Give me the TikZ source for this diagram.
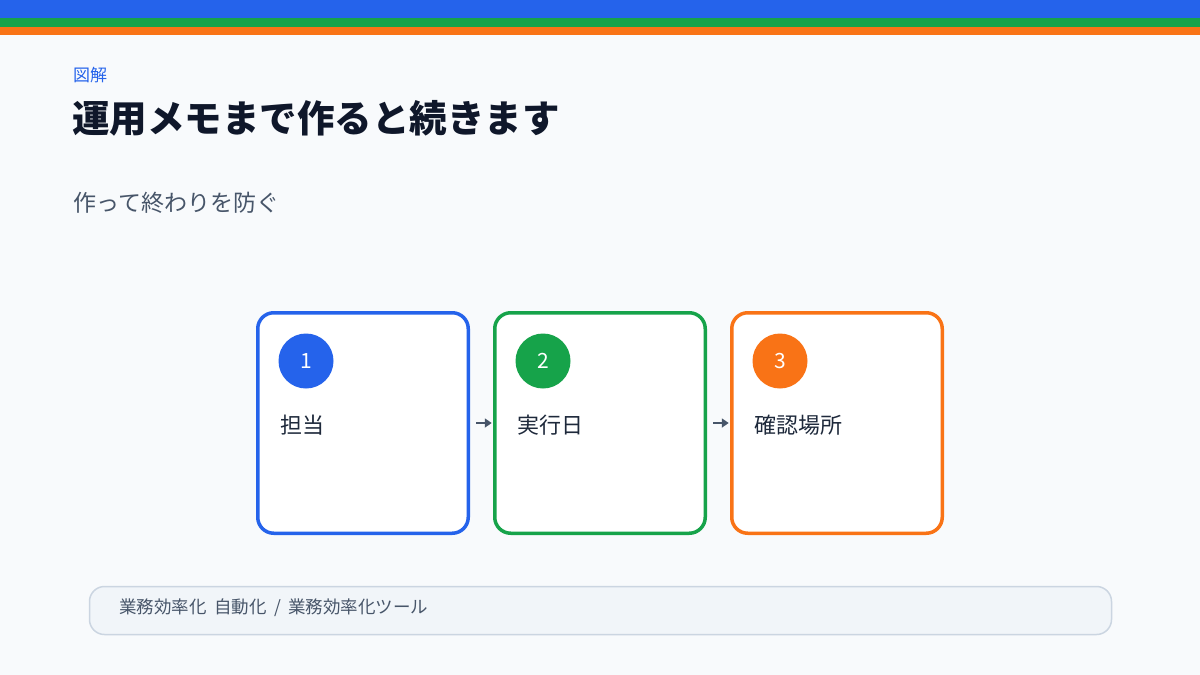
\documentclass[tikz,border=0pt]{standalone}
\usepackage{fontspec}
\setmainfont{Noto Sans CJK JP}
\newfontfamily\tagfont{Noto Sans CJK JP}[WordSpace=1.9]
\usetikzlibrary{arrows.meta}

\definecolor{bgpaper}{HTML}{F8FAFC}
\definecolor{cblue}{HTML}{2563EB}
\definecolor{cgreen}{HTML}{16A34A}
\definecolor{corange}{HTML}{F97316}
\definecolor{cink}{HTML}{0F172A}
\definecolor{cslate}{HTML}{475569}
\definecolor{clabel}{HTML}{1E293B}
\definecolor{cfoot}{HTML}{F1F5F9}
\definecolor{cfootline}{HTML}{CBD5E1}

\begin{document}
\begin{tikzpicture}[x=1pt,y=-1pt,
  stepcard/.style={draw=#1,line width=3.5pt,fill=white,rounded corners=16pt,
    minimum width=210.5pt,minimum height=220.5pt,inner sep=0pt,outer sep=0pt},
  stepnum/.style={circle,fill=#1,minimum size=55pt,inner sep=0pt,
    text=white,font=\fontsize{21}{25}\selectfont},
  steplabel/.style={anchor=west,text=clabel,font=\fontsize{22}{26}\selectfont},
  flow/.style={draw=cslate,line width=2pt,-{Triangle[length=7pt,width=9pt]},
    shorten <=8pt,shorten >=3pt}]
\useasboundingbox (0,0) rectangle (1200,675);

%Shape: background
\fill [bgpaper] (0,0) rectangle (1200,675);
%Shape: top bands
\fill [cblue] (0,0) rectangle (1200,17.5);
\fill [cgreen] (0,17.5) rectangle (1200,27);
\fill [corange] (0,27) rectangle (1200,34.5);

% Text Node
\node (kicker) [anchor=west,text=cblue,font=\fontsize{17}{20}\selectfont,inner sep=0pt] at (73,75) {図解};
% Text Node
\node (title) [anchor=west,text=cink,font=\fontsize{37.5}{42}\bfseries,inner sep=0pt] at (72,118) {運用メモまで作ると続きます};
% Text Node
\node (subtitle) [anchor=west,text=cslate,font=\fontsize{23}{27}\selectfont,inner sep=0pt] at (73,203) {作って終わりを防ぐ};

%Shape: step cards
\node (card1) [stepcard=cblue] at (363,423) {};
\node (card2) [stepcard=cgreen] at (600,423) {};
\node (card3) [stepcard=corange] at (837,423) {};

%Shape: number circles
\node (num1) [stepnum=cblue] at (306,361) {1};
\node (num2) [stepnum=cgreen] at (543,361) {2};
\node (num3) [stepnum=corange] at (780,361) {3};

% Text Node
\node (lab1) [steplabel,inner sep=0pt] at (280,425) {担当};
\node (lab2) [steplabel,inner sep=0pt] at (517,425) {実行日};
\node (lab3) [steplabel,inner sep=0pt] at (754,425) {確認場所};

%Straight Lines: flow arrows
\draw [flow] (card1.east) -- (card2.west);
\draw [flow] (card2.east) -- (card3.west);

%Shape: footer bar
\node (footer) [draw=cfootline,fill=cfoot,line width=1.5pt,rounded corners=15pt,
  minimum width=1022pt,minimum height=48pt,inner sep=0pt] at (600.5,610.5) {};
% Text Node
\node (tags) [anchor=west,text=cslate,font=\tagfont\fontsize{17.5}{21}\selectfont,inner sep=0pt] at (119,608) {業務効率化 自動化 / 業務効率化ツール};

\end{tikzpicture}
\end{document}
